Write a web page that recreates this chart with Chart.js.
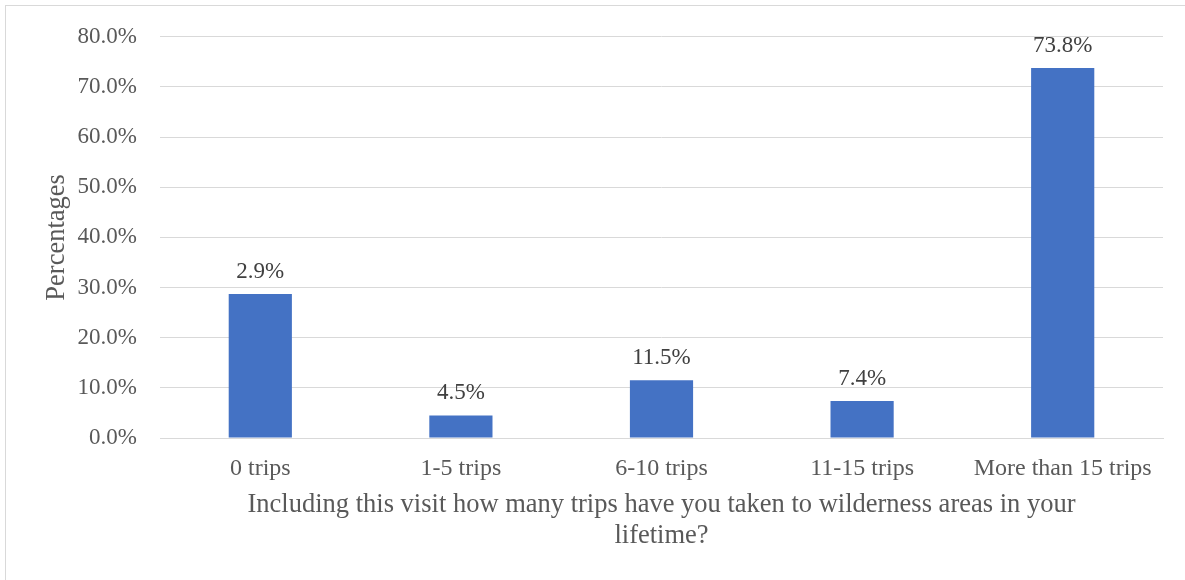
<!DOCTYPE html>
<html>
<head>
<meta charset="utf-8">
<script src="https://cdn.jsdelivr.net/npm/chart.js@4.4.0/dist/chart.umd.min.js"></script>
<style>
  html, body { margin:0; padding:0; background:#fff; }
  #wrap { position:relative; width:1185px; height:580px; overflow:hidden; }
  #frame { position:absolute; left:5px; top:5px; width:1190px; height:590px; border:1px solid #d9d9d9; box-sizing:border-box; }
  #chart { position:absolute; left:0; top:0; }
</style>
</head>
<body>
<div id="wrap">
  <div id="frame"></div>
  <canvas id="chart" width="1185" height="580"></canvas>
</div>
<script>
// categories + values
const categories = ['0 trips', '1-5 trips', '6-10 trips', '11-15 trips', 'More than 15 trips'];
const barValues = [28.7, 4.5, 11.5, 7.4, 73.8];
// printed labels (first one as printed in the source, differs from bar height)
const barLabels = ['2.9%', '4.5%', '11.5%', '7.4%', '73.8%'];
const yTicks = [0, 10, 20, 30, 40, 50, 60, 70, 80];

const FONT = '"Liberation Serif", "Times New Roman", serif';
const TEXT = '#595959';
const GRID = '#d9d9d9';

// labels above bars (no datalabels plugin available)
const barLabelPlugin = {
  id: 'barLabels',
  afterDatasetsDraw(chart){
    const { ctx } = chart;
    const meta = chart.getDatasetMeta(0);
    ctx.save();
    ctx.font = '23px ' + FONT;
    ctx.fillStyle = '#404040';
    ctx.textAlign = 'center';
    ctx.textBaseline = 'alphabetic';
    meta.data.forEach((bar, i) => {
      ctx.fillText(barLabels[i], bar.x, bar.y - 16);
    });
    ctx.restore();
  }
};

new Chart(document.getElementById('chart').getContext('2d'), {
  type: 'bar',
  data: {
    labels: categories,
    datasets: [{
      data: barValues,
      backgroundColor: '#4472C4',
      borderWidth: 0,
      categoryPercentage: 1,
      barPercentage: 0.315
    }]
  },
  options: {
    responsive: false,
    animation: false,
    layout: { padding: { left: 0, right: 22, top: 35, bottom: 0 } },
    plugins: { legend: { display: false }, tooltip: { enabled: false } },
    scales: {
      x: {
        grid: { display: false, drawTicks: false },
        border: { display: true, color: GRID, width: 1 },
        ticks: { color: TEXT, font: { family: FONT, size: 24 }, padding: 16, maxRotation: 0, autoSkip: false },
        title: {
          display: true,
          text: ['Including this visit how many trips have you taken to wilderness areas in your', 'lifetime?'],
          color: TEXT,
          font: { family: FONT, size: 26.5, lineHeight: 1.17 },
          padding: { top: 0, bottom: 28 }
        },
        afterFit: s => { s.height = 142; }
      },
      y: {
        min: 0, max: 80,
        afterBuildTicks: s => { s.ticks = yTicks.map(v => ({ value: v })); },
        grid: { color: GRID, lineWidth: 1, drawTicks: false },
        border: { display: false },
        ticks: {
          color: TEXT, font: { family: FONT, size: 23 }, padding: 23,
          callback: v => v.toFixed(1) + '%'
        },
        title: {
          display: true, text: 'Percentages', color: TEXT,
          font: { family: FONT, size: 26.5, lineHeight: 1.2 },
          padding: { top: 41, bottom: 0 }
        },
        afterFit: s => { s.width = 160; }
      }
    }
  },
  plugins: [barLabelPlugin]
});
</script>
</body>
</html>
